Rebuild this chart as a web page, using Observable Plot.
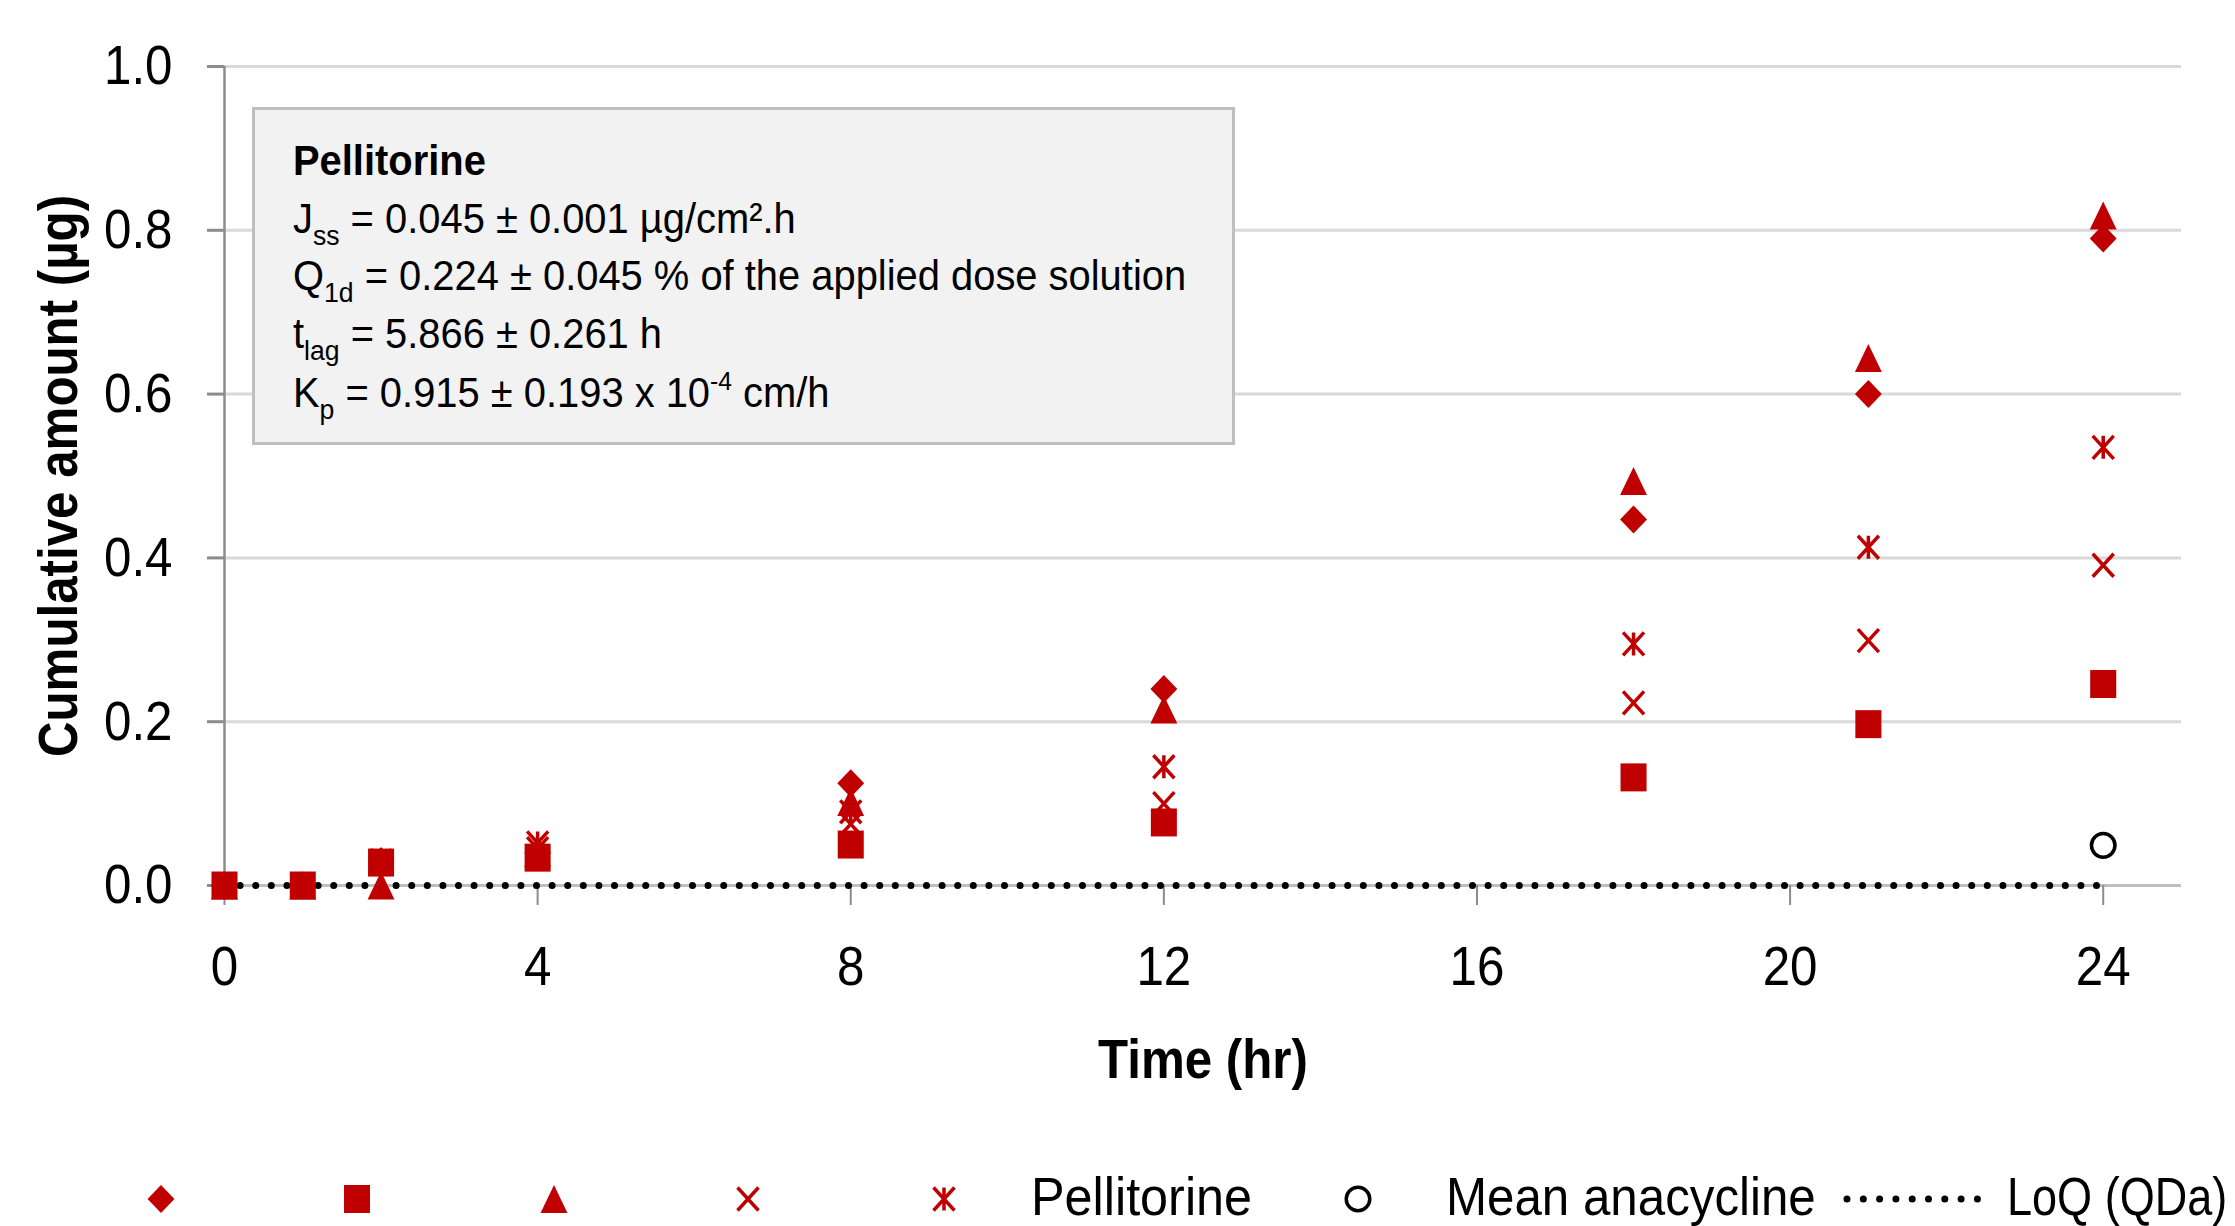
<!DOCTYPE html>
<html><head><meta charset="utf-8">
<script src="https://cdn.jsdelivr.net/npm/d3@7"></script>
<script src="https://cdn.jsdelivr.net/npm/@observablehq/plot@0.6"></script>
<style>
html,body{margin:0;padding:0;background:#fff;}
body{width:2235px;height:1226px;overflow:hidden;font-family:"Liberation Sans",Arial,sans-serif;}
#wrap{position:relative;width:2235px;height:1226px;}
#chart{position:absolute;left:0;top:0;}
#box{position:absolute;left:252px;top:107px;}
#legend{position:absolute;left:0;top:1140px;}
</style></head>
<body><div id="wrap"><div id="chart"></div><div id="box"></div><div id="legend"></div></div>
<script>
// ---------- data ----------
const times = [0, 1, 2, 4, 8, 12, 18, 21, 24];
const diamondVals  = [0, 0, 0.030, 0.040, 0.125, 0.240, 0.447, 0.600, 0.790];
const squareVals   = [0, 0, 0.028, 0.034, 0.050, 0.077, 0.132, 0.197, 0.246];
const triangleVals = [0, 0, 0.000, 0.040, 0.102, 0.215, 0.494, 0.644, 0.818];
const timesVals    = [0, 0, 0.030, 0.045, 0.075, 0.100, 0.223, 0.299, 0.391];
const asteriskVals = [0, 0, 0.030, 0.052, 0.090, 0.145, 0.295, 0.413, 0.535];
const anacyclineTimes = [24];
const anacyclineVals  = [0.049];
const loqTimes = [0, 24];
const loqVals  = [0, 0];
const xTicks = [0, 4, 8, 12, 16, 20, 24];
const yTicks = [0, 0.2, 0.4, 0.6, 0.8, 1.0];
const xTitle = "Time (hr)";
const yTitle = "Cumulative amount (µg)";
const legendLabels = ["", "", "", "", "Pellitorine", "Mean anacycline", "LoQ (QDa)"];

// ---------- styles ----------
const RED = "#c00000";
const FONT = "'Liberation Sans', Arial, sans-serif";
function sym(fn) { return { draw(c, size) { const r = Math.sqrt(size / Math.PI); fn(c, r); } }; }
const diamondSym = sym((c, r) => { c.moveTo(0, -r); c.lineTo(0.96 * r, 0); c.lineTo(0, r); c.lineTo(-0.96 * r, 0); c.closePath(); });
const squareSym = sym((c, r) => { const w = 0.93 * r; c.moveTo(-w, -r); c.lineTo(w, -r); c.lineTo(w, r); c.lineTo(-w, r); c.closePath(); });
const triangleSym = sym((c, r) => { c.moveTo(0, -r); c.lineTo(0.96 * r, r); c.lineTo(-0.96 * r, r); c.closePath(); });
const timesSym = sym((c, r) => { const w = 0.75 * r, h = 0.82 * r; c.moveTo(-w, -h); c.lineTo(w, h); c.moveTo(-w, h); c.lineTo(w, -h); });
const asteriskSym = sym((c, r) => { const w = 0.75 * r, h = 0.82 * r; c.moveTo(-w, -h); c.lineTo(w, h); c.moveTo(-w, h); c.lineTo(w, -h); c.moveTo(0, -h); c.lineTo(0, h); });
const circleSym = sym((c, r) => { const q = 0.84 * r; c.moveTo(q, 0); c.arc(0, 0, q, 0, 2 * Math.PI); });
const R = 14;

const rows = (ts, vs) => ts.map((t, i) => ({ t, v: vs[i] }));

const filled = (vals, symbol) => Plot.dot(rows(times, vals), { x: "t", y: "v", symbol, r: R, fill: RED, stroke: "none" });
const stroked = (ts, vals, symbol, color) => Plot.dot(rows(ts, vals), { x: "t", y: "v", symbol, r: R, fill: "none", stroke: color, strokeWidth: 3.5 });

const plot = Plot.plot({
  width: 2235, height: 1140,
  marginLeft: 224, marginRight: 54, marginTop: 66, marginBottom: 255,
  style: { fontFamily: FONT, fontSize: "56px", color: "#000", background: "white", overflow: "visible" },
  x: { domain: [0, 25] },
  y: { domain: [0, 1] },
  marks: [
    Plot.gridY(yTicks.filter(d => d > 0), { stroke: "#d9d9d9", strokeWidth: 3, strokeOpacity: 1 }),
    Plot.ruleY([0], { stroke: "#bfbfbf", strokeWidth: 3 }),
    Plot.ruleX([0], { stroke: "#8c8c8c", strokeWidth: 2.5 }),
    Plot.axisY({ ticks: yTicks, tickFormat: d => d.toFixed(1), tickSize: 17, tickPadding: 35, label: null, stroke: "#8c8c8c", strokeWidth: 3, fill: "#000" }),
    Plot.axisX({ ticks: xTicks, tickFormat: d => String(d), tickSize: 20, tickPadding: 40, label: null, stroke: "#8c8c8c", strokeWidth: 2, fill: "#000" }),
    Plot.text([xTitle], { text: d => d, frameAnchor: "bottom", textAnchor: "middle", lineAnchor: "bottom", dy: 192, fontWeight: "bold", fontSize: 56, fill: "#000" }),
    Plot.text([yTitle], { text: d => d, frameAnchor: "left", textAnchor: "middle", lineAnchor: "bottom", rotate: -90, dx: -148, fontWeight: "bold", fontSize: 56, fill: "#000" }),
    Plot.line(rows(loqTimes, loqVals), { x: "t", y: "v", stroke: "#000", strokeWidth: 7, strokeDasharray: "0 15.6", strokeLinecap: "round" }),
    filled(diamondVals, diamondSym),
    filled(squareVals, squareSym),
    filled(triangleVals, triangleSym),
    stroked(times, timesVals, timesSym, RED),
    stroked(times, asteriskVals, asteriskSym, RED),
    stroked(anacyclineTimes, anacyclineVals, circleSym, "#000")
  ]
});
// condense text horizontally (Calibri-like narrow lettering)
d3.select(plot).selectAll("text").each(function () {
  const tr = this.getAttribute("transform");
  if (tr) this.setAttribute("transform", tr + " scale(0.88,1)");
});
document.getElementById("chart").appendChild(plot);

// ---------- annotation box ----------
const boxLines = [
  `<tspan font-weight="bold">Pellitorine</tspan>`,
  `J<tspan dy="12" font-size="28">ss</tspan><tspan dy="-12"> = 0.045 ± 0.001 µg/cm².h</tspan>`,
  `Q<tspan dy="12" font-size="28">1d</tspan><tspan dy="-12"> = 0.224 ± 0.045 % of the applied dose solution</tspan>`,
  `t<tspan dy="12" font-size="28">lag</tspan><tspan dy="-12"> = 5.866 ± 0.261 h</tspan>`,
  `K<tspan dy="12" font-size="28">p</tspan><tspan dy="-12"> = 0.915 ± 0.193 x 10</tspan><tspan dy="-17" font-size="26">-4</tspan><tspan dy="17"> cm/h</tspan>`
];
const baselines = [68, 126, 183, 241, 300];
document.getElementById("box").innerHTML =
  `<svg width="983" height="338" xmlns="http://www.w3.org/2000/svg" style="display:block">
    <rect x="1.5" y="1.5" width="980" height="335" fill="#f2f2f2" stroke="#bfbfbf" stroke-width="3"/>
    ${boxLines.map((l, i) => `<text transform="translate(41,${baselines[i]}) scale(0.95,1)" font-family="${FONT.replace(/'/g, "")}" font-size="42" fill="#000">${l}</text>`).join("")}
  </svg>`;

// ---------- legend ----------
const L = d3.select("#legend").append("svg").attr("width", 2235).attr("height", 86).style("display", "block");
const cy = 59;
const legendSyms = [
  { x: 161, s: diamondSym, fill: RED, stroke: "none" },
  { x: 357, s: squareSym, fill: RED, stroke: "none" },
  { x: 554, s: triangleSym, fill: RED, stroke: "none" },
  { x: 748, s: timesSym, fill: "none", stroke: RED },
  { x: 944, s: asteriskSym, fill: "none", stroke: RED },
  { x: 1358, s: circleSym, fill: "none", stroke: "#000" }
];
legendSyms.forEach(d => {
  L.append("path").attr("transform", `translate(${d.x},${cy})`)
    .attr("d", d3.symbol(d.s, R * R * Math.PI)())
    .attr("fill", d.fill).attr("stroke", d.stroke).attr("stroke-width", 3.5);
});
L.append("line").attr("x1", 1847).attr("x2", 1978).attr("y1", cy).attr("y2", cy)
  .attr("stroke", "#000").attr("stroke-width", 7).attr("stroke-linecap", "round").attr("stroke-dasharray", "0 16.3");
const legendTexts = [
  { x: 1031, t: legendLabels[4], k: 0.95 },
  { x: 1446, t: legendLabels[5], k: 0.93 },
  { x: 2007, t: legendLabels[6], k: 0.85 }
];
legendTexts.forEach(d => {
  L.append("text").attr("transform", `translate(${d.x},75) scale(${d.k},1)`)
    .attr("font-family", FONT.replace(/'/g, "")).attr("font-size", 53).attr("fill", "#000").text(d.t);
});
</script>
</body></html>
